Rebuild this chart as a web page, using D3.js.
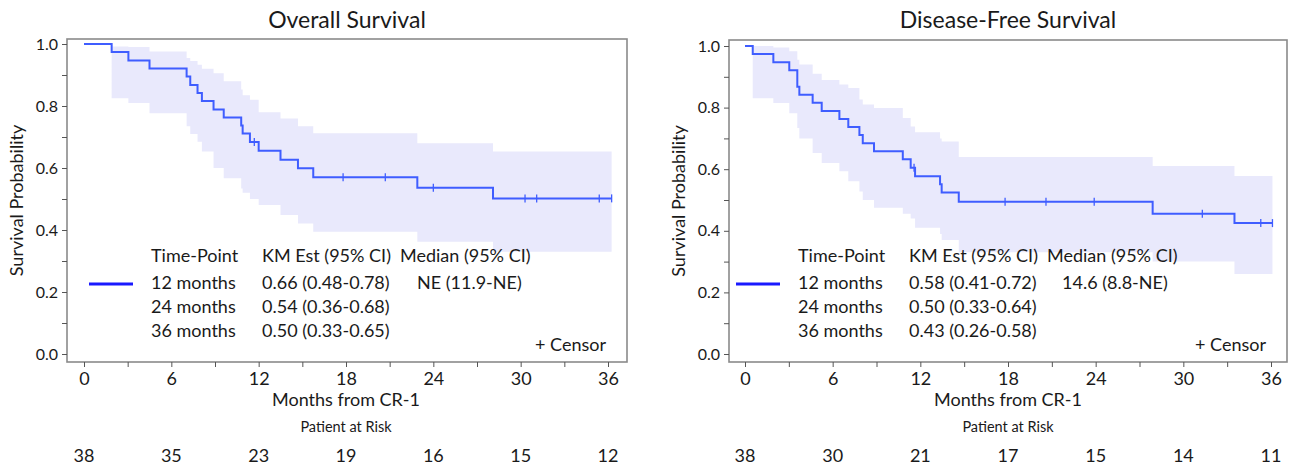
<!DOCTYPE html>
<html>
<head>
<meta charset="utf-8">
<script src="https://cdn.jsdelivr.net/npm/d3@7"></script>
<style>
  body { margin: 0; background: #fff; }
  svg text { font-family: Lato, "Open Sans", sans-serif; fill: #1a1a1a; }
</style>
</head>
<body>
<div id="viz-container"></div>
<script>
// ---- data ----
let xTicks = [0, 3, 6, 9, 12, 15, 18, 21, 24, 27, 30, 33, 36];
let xLabels = [0, 6, 12, 18, 24, 30, 36];
let yTicks = [0, 0.1, 0.2, 0.3, 0.4, 0.5, 0.6, 0.7, 0.8, 0.9, 1.0];
let yLabels = [0, 0.2, 0.4, 0.6, 0.8, 1.0];

// overall survival
let osTimes = [0, 1.9, 3.05, 4.5, 7.05, 7.3, 7.8, 8.1, 8.9, 9.6, 10.8, 10.9, 11.4, 12.0, 13.5, 14.7, 15.75, 22.9, 28.1];
let osSurv  = [1, 0.974, 0.947, 0.921, 0.895, 0.868, 0.842, 0.816, 0.789, 0.763, 0.737, 0.711, 0.684, 0.656, 0.627, 0.599, 0.570, 0.536, 0.502];
let osLower = [1, 0.825, 0.81, 0.777, 0.735, 0.71, 0.685, 0.653, 0.60, 0.567, 0.534, 0.52, 0.50, 0.481, 0.448, 0.421, 0.394, 0.362, 0.330];
let osUpper = [1, 0.992, 0.99, 0.976, 0.955, 0.945, 0.933, 0.92, 0.906, 0.88, 0.853, 0.835, 0.82, 0.78, 0.76, 0.735, 0.712, 0.68, 0.653];
let osCensor = [11.7, 17.8, 20.7, 24.0, 30.3, 31.1, 35.4, 36.25];
let osEnd = 36.25;
let osAtRisk = [38, 35, 23, 19, 16, 15, 12];
let osRows = [
  ["12 months", "0.66 (0.48-0.78)", "NE (11.9-NE)"],
  ["24 months", "0.54 (0.36-0.68)", ""],
  ["36 months", "0.50 (0.33-0.65)", ""]
];

// disease-free survival
let dfsTimes = [0, 0.53, 1.94, 3.03, 3.58, 3.72, 4.63, 5.25, 6.46, 7.07, 7.83, 8.06, 8.83, 10.8, 11.34, 11.64, 13.35, 13.46, 14.63, 27.9, 33.5];
let dfsSurv  = [1, 0.974, 0.947, 0.921, 0.868, 0.842, 0.816, 0.789, 0.763, 0.737, 0.711, 0.684, 0.658, 0.632, 0.605, 0.577, 0.551, 0.524, 0.494, 0.455, 0.425];
let dfsLower = [1, 0.83, 0.815, 0.782, 0.734, 0.70, 0.653, 0.62, 0.593, 0.561, 0.528, 0.50, 0.475, 0.455, 0.44, 0.41, 0.39, 0.37, 0.33, 0.30, 0.26];
let dfsUpper = [1, 1.0, 0.995, 0.983, 0.955, 0.94, 0.91, 0.89, 0.875, 0.864, 0.826, 0.81, 0.799, 0.766, 0.739, 0.72, 0.70, 0.69, 0.64, 0.61, 0.578];
let dfsCensor = [11.57, 17.8, 20.6, 23.9, 31.3, 35.3, 36.1];
let dfsEnd = 36.1;
let dfsAtRisk = [38, 30, 21, 17, 15, 14, 11];
let dfsRows = [
  ["12 months", "0.58 (0.41-0.72)", "14.6 (8.8-NE)"],
  ["24 months", "0.50 (0.33-0.64)", ""],
  ["36 months", "0.43 (0.26-0.58)", ""]
];

let legendHeader = ["Time-Point", "KM Est (95% CI)", "Median (95% CI)"];

// ---- drawing ----
let viz = d3.select("#viz-container")
  .append("svg")
    .attr("id", "viz")
    .attr("width", 1297)
    .attr("height", 467);

function makeSteps(times, vals, end){
  let pts = times.map((t, i) => ({t: t, v: vals[i]}));
  pts.push({t: end, v: vals[vals.length - 1]});
  return pts;
}

function survAt(times, vals, t){
  let idx = d3.bisectRight(times, t) - 1;
  return vals[Math.max(idx, 0)];
}

function drawPanel(p){
  let x = d3.scaleLinear().domain([0, 36]).range([p.x0, p.x1]);
  let y = d3.scaleLinear().domain([0, 1]).range([p.y0, p.y1]);
  let g = viz.append("g");

  // confidence band
  let band = p.times.map((t, i) => ({t: t, lo: p.lower[i], hi: p.upper[i]})).slice(1);
  band.push({t: p.end, lo: p.lower[p.lower.length - 1], hi: p.upper[p.upper.length - 1]});
  g.append("path")
    .datum(band)
    .attr("d", d3.area().x(d => x(d.t)).y0(d => y(d.lo)).y1(d => y(d.hi)).curve(d3.curveStepAfter))
    .attr("fill", "#e9e9fc");

  // KM curve
  g.append("path")
    .datum(makeSteps(p.times, p.surv, p.end))
    .attr("d", d3.line().x(d => x(d.t)).y(d => y(d.v)).curve(d3.curveStepAfter))
    .attr("fill", "none")
    .attr("stroke", "#3f5dff")
    .attr("stroke-width", 2);

  // censor marks
  g.selectAll(".censor").data(p.censor).enter()
    .append("line")
      .attr("x1", d => x(d)).attr("x2", d => x(d))
      .attr("y1", d => y(survAt(p.times, p.surv, d)) - 4)
      .attr("y2", d => y(survAt(p.times, p.surv, d)) + 4)
      .attr("stroke", "#3f5dff")
      .attr("stroke-width", 1.3);

  // frame
  g.append("rect")
    .attr("x", p.bx0).attr("y", p.by0)
    .attr("width", p.bx1 - p.bx0).attr("height", p.by1 - p.by0)
    .attr("fill", "none").attr("stroke", "#8a8a8a").attr("stroke-width", 1.6);

  // y axis
  let yAxis = g.append("g")
    .attr("transform", "translate(" + p.bx0 + ",0)")
    .call(d3.axisLeft(y).tickValues(yTicks).tickSize(5)
      .tickFormat(d => yLabels.some(v => Math.abs(v - d) < 1e-9) ? d3.format(".1f")(d) : ""));
  yAxis.select(".domain").remove();
  yAxis.selectAll("line").attr("stroke", "#555");
  yAxis.selectAll("text").attr("font-size", 16).attr("dx", "-1").style("font-family", "Lato, sans-serif").attr("fill", "#1a1a1a");

  // x axis
  let xAxis = g.append("g")
    .attr("transform", "translate(0," + p.by1 + ")")
    .call(d3.axisBottom(x).tickValues(xTicks).tickSize(5)
      .tickFormat(d => xLabels.indexOf(d) >= 0 ? d : ""));
  xAxis.select(".domain").remove();
  xAxis.selectAll("line").attr("stroke", "#555");
  xAxis.selectAll("text").attr("font-size", 18).attr("dy", "0.85em").style("font-family", "Lato, sans-serif").attr("fill", "#1a1a1a");

  // titles
  g.append("text")
    .attr("x", (p.bx0 + p.bx1) / 2).attr("y", 28)
    .attr("text-anchor", "middle").attr("font-size", 23)
    .text(p.title);
  g.append("text")
    .attr("transform", "translate(" + p.ylabX + "," + ((p.by0 + p.by1) / 2) + ") rotate(-90)")
    .attr("text-anchor", "middle").attr("font-size", 18)
    .text("Survival Probability");
  g.append("text")
    .attr("x", x(18)).attr("y", 406)
    .attr("text-anchor", "middle").attr("font-size", 18)
    .text("Months from CR-1");
  g.append("text")
    .attr("x", x(18)).attr("y", 432)
    .attr("text-anchor", "middle").attr("font-size", 14.5)
    .text("Patient at Risk");

  // patients at risk
  g.selectAll(".risk").data(p.atRisk).enter()
    .append("text")
      .attr("x", (d, i) => x(xLabels[i]))
      .attr("y", 462)
      .attr("text-anchor", "middle")
      .attr("font-size", 18)
      .text(d => d);

  // legend table
  let cols = [p.lx, p.lx + 111, p.lx + 249];
  legendHeader.forEach((h, i) => {
    g.append("text").attr("x", cols[i]).attr("y", 262).attr("font-size", 18).text(h);
  });
  p.rows.forEach((r, j) => {
    g.append("text").attr("x", cols[0]).attr("y", 289 + j * 24).attr("font-size", 18).text(r[0]);
    g.append("text").attr("x", cols[1]).attr("y", 289 + j * 24).attr("font-size", 18).text(r[1]);
    g.append("text").attr("x", cols[2] + p.medOff).attr("y", 289 + j * 24).attr("font-size", 18).text(r[2]);
  });
  g.append("line")
    .attr("x1", p.lx - 62).attr("x2", p.lx - 18)
    .attr("y1", 284).attr("y2", 284)
    .attr("stroke", "#1a1aff").attr("stroke-width", 3);
  g.append("text")
    .attr("x", p.bx1 - 21).attr("y", 351)
    .attr("text-anchor", "end").attr("font-size", 18)
    .text("+ Censor");
}

drawPanel({
  title: "Overall Survival",
  times: osTimes, surv: osSurv, lower: osLower, upper: osUpper,
  censor: osCensor, end: osEnd, atRisk: osAtRisk, rows: osRows,
  x0: 84, x1: 608, y0: 354, y1: 44,
  bx0: 67, bx1: 627, by0: 39, by1: 362,
  ylabX: 23, lx: 151, medOff: 17
});

drawPanel({
  title: "Disease-Free Survival",
  times: dfsTimes, surv: dfsSurv, lower: dfsLower, upper: dfsUpper,
  censor: dfsCensor, end: dfsEnd, atRisk: dfsAtRisk, rows: dfsRows,
  x0: 745, x1: 1271, y0: 354, y1: 46,
  bx0: 729, bx1: 1287, by0: 40, by1: 362,
  ylabX: 685, lx: 798, medOff: 15
});
</script>
</body>
</html>
